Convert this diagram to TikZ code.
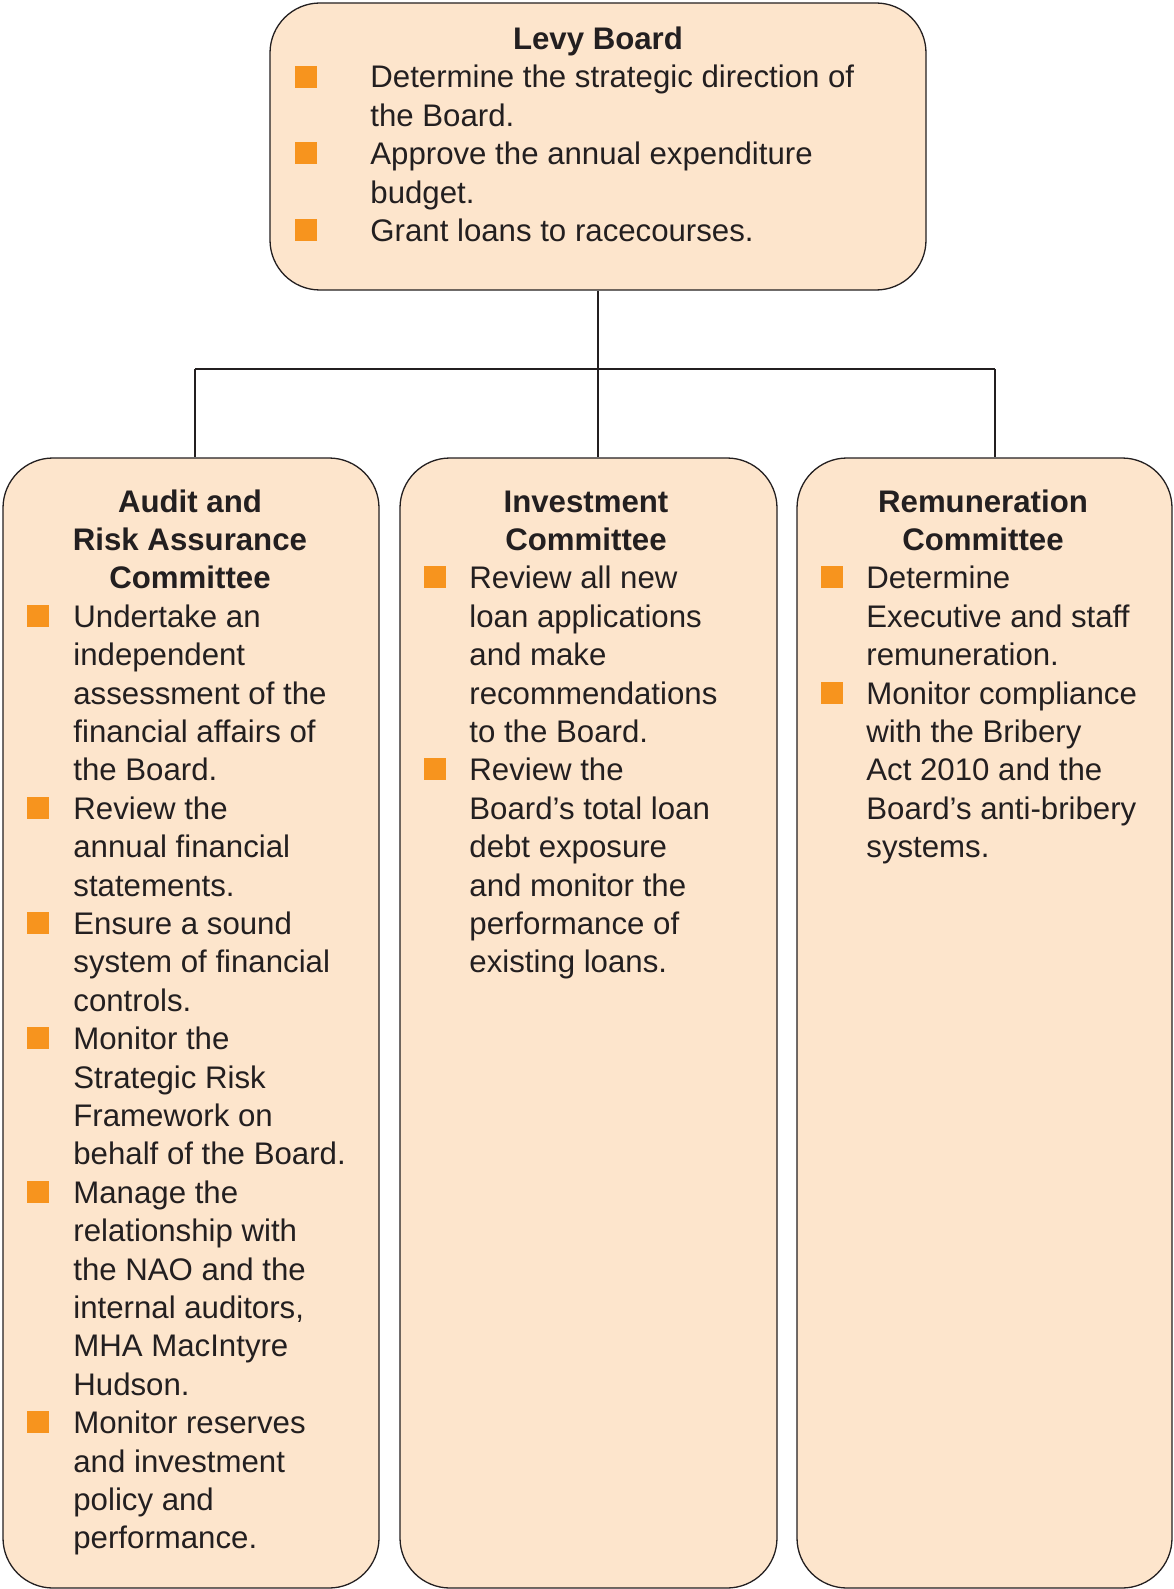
\documentclass[tikz,border=0pt]{standalone}
\usepackage{fontspec}
\setmainfont{Liberation Sans}
\definecolor{peach}{HTML}{FDE5CC}
\definecolor{bulletorange}{HTML}{F7941E}
\definecolor{ink}{HTML}{231F20}
\begin{document}
\begin{tikzpicture}[x=0.5pt,y=-0.5pt,
  box/.style={draw=ink, fill=peach, line width=0.65pt, rounded corners=25pt, inner sep=0pt},
  conn/.style={draw=ink, line width=0.6pt},
  txt/.style={inner sep=0pt, anchor=base west, align=left, text=ink,
    font=\fontsize{15.6pt}{19.2pt}\selectfont},
  head/.style={inner sep=0pt, anchor=base, align=center, text=ink,
    font=\fontsize{15.6pt}{19.2pt}\selectfont\bfseries},
  sq/.style={fill=bulletorange, inner sep=0pt, minimum size=11pt, anchor=south west}
]
\useasboundingbox (0,0) rectangle (1173,1589);

% boxes
\node[box, minimum width=328pt, minimum height=143.5pt] (levy) at (598,146.5) {};
\node[box, minimum width=188pt, minimum height=565pt] (audit) at (191,1023) {};
\node[box, minimum width=188.5pt, minimum height=565pt] (invest) at (588.5,1023) {};
\node[box, minimum width=187.5pt, minimum height=565pt] (remun) at (984.5,1023) {};

% connectors
\coordinate (hub) at (598,369);
\coordinate (jl) at (195,369);
\coordinate (jr) at (995,369);
\draw[conn] (levy.south) -- (hub);
\draw[conn] (jl) -- (jr);
\draw[conn] (jl) -- (jl |- audit.north);
\draw[conn] (hub) -- (hub |- invest.north);
\draw[conn] (jr) -- (jr |- remun.north);

% Levy Board (text nodes anchored at the baseline of their last line)
\node[head] (levyh) at (598,50) {Levy Board};
\node[sq] (lb1) at (295,88) {};
\node[txt] (lt1) at (370,126.4) {Determine the strategic direction of\\the Board.};
\node[sq] (lb2) at (295,164.7) {};
\node[txt] (lt2) at (370,203.1) {Approve the annual expenditure\\budget.};
\node[sq] (lb3) at (295,241.4) {};
\node[txt] (lt3) at (370,241.4) {Grant loans to racecourses.};

% Audit and Risk Assurance Committee
\node[head] (ah) at (190,588.8) {Audit and\\Risk Assurance\\Committee};
\node[sq] (ab1) at (27,627.2) {};
\node[txt] (at1) at (73,780.8) {Undertake an\\independent\\assessment of the\\financial affairs of\\the Board.};
\node[sq] (ab2) at (27,819.2) {};
\node[txt] (at2) at (73,896) {Review the\\annual financial\\statements.};
\node[sq] (ab3) at (27,934.4) {};
\node[txt] (at3) at (73,1011.2) {Ensure a sound\\system of financial\\controls.};
\node[sq] (ab4) at (27,1049.6) {};
\node[txt] (at4) at (73,1164.8) {Monitor the\\Strategic Risk\\Framework on\\behalf of the Board.};
\node[sq] (ab5) at (27,1203.2) {};
\node[txt] (at5) at (73,1395.2) {Manage the\\relationship with\\the NAO and the\\internal auditors,\\MHA MacIntyre\\Hudson.};
\node[sq] (ab6) at (27,1433.6) {};
\node[txt] (at6) at (73,1548.8) {Monitor reserves\\and investment\\policy and\\performance.};

% Investment Committee
\node[head] (ih) at (586,550.4) {Investment\\Committee};
\node[sq] (ib1) at (424,588.8) {};
\node[txt] (it1) at (469,742.4) {Review all new\\loan applications\\and make\\recommendations\\to the Board.};
\node[sq] (ib2) at (424,780.8) {};
\node[txt] (it2) at (469,972.8) {Review the\\Board’s total loan\\debt exposure\\and monitor the\\performance of\\existing loans.};

% Remuneration Committee
\node[head] (rh) at (983,550.4) {Remuneration\\Committee};
\node[sq] (rb1) at (821,588.8) {};
\node[txt] (rt1) at (866,665.6) {Determine\\Executive and staff\\remuneration.};
\node[sq] (rb2) at (821,704) {};
\node[txt] (rt2) at (866,857.6) {Monitor compliance\\with the Bribery\\Act 2010 and the\\Board’s anti-bribery\\systems.};
\end{tikzpicture}
\end{document}
